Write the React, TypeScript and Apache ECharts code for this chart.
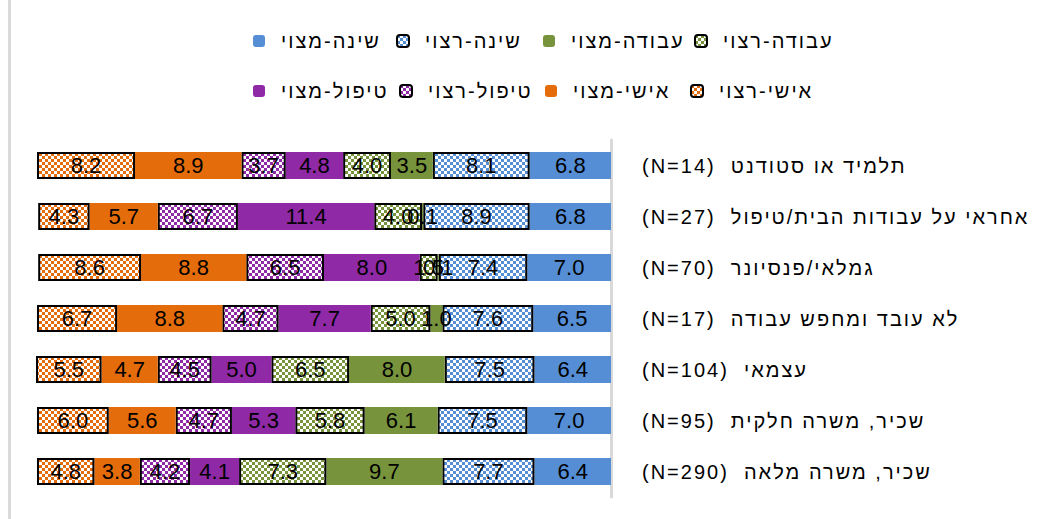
import React, { useEffect, useRef } from 'react';
import * as echarts from 'echarts';

const RLE = '\u202B';
const PDF = '\u202C';

const categories = [
  'תלמיד או סטודנט  (N=14)',
  'אחראי על עבודות הבית/טיפול  (N=27)',
  'גמלאי/פנסיונר  (N=70)',
  'לא עובד ומחפש עבודה  (N=17)',
  'עצמאי  (N=104)',
  'שכיר, משרה חלקית  (N=95)',
  'שכיר, משרה מלאה  (N=290)',
];

const seriesNames = [
  'שינה-מצוי',
  'שינה-רצוי',
  'עבודה-מצוי',
  'עבודה-רצוי',
  'טיפול-מצוי',
  'טיפול-רצוי',
  'אישי-מצוי',
  'אישי-רצוי',
];

const sleepActual = [6.8, 6.8, 7.0, 6.5, 6.4, 7.0, 6.4];
const sleepDesired = [8.1, 8.9, 7.4, 7.6, 7.5, 7.5, 7.7];
const workActual = [3.5, 0.1, 0.1, 1.0, 8.0, 6.1, 9.7];
const workDesired = [4.0, 4.0, 1.5, 5.0, 6.5, 5.8, 7.3];
const careActual = [4.8, 11.4, 8.0, 7.7, 5.0, 5.3, 4.1];
const careDesired = [3.7, 6.7, 6.5, 4.7, 4.5, 4.7, 4.2];
const personalActual = [8.9, 5.7, 8.8, 8.8, 4.7, 5.6, 3.8];
const personalDesired = [8.2, 4.3, 8.6, 6.7, 5.5, 6.0, 4.8];

const seriesValues = [
  sleepActual,
  sleepDesired,
  workActual,
  workDesired,
  careActual,
  careDesired,
  personalActual,
  personalDesired,
];

const colors = ['#558ED5', '#558ED5', '#77933C', '#77933C', '#8F29A5', '#8F29A5', '#E46C0A', '#E46C0A'];
const patterned = [false, true, false, true, false, true, false, true];

const legendPos = [
  [253, 31],
  [396, 31],
  [543, 31],
  [694, 31],
  [253, 81],
  [399, 81],
  [545, 81],
  [690, 81],
];

function makePattern(color: string) {
  const c = document.createElement('canvas');
  c.width = 6;
  c.height = 6;
  const ctx = c.getContext('2d')!;
  ctx.fillStyle = '#ffffff';
  ctx.fillRect(0, 0, 6, 6);
  ctx.fillStyle = color;
  ctx.fillRect(0, 0, 3, 3);
  ctx.fillRect(3, 3, 3, 3);
  return { image: c, repeat: 'repeat', imageWidth: 6, imageHeight: 6 } as any;
}

const css = `.hchart text[style*="Arimo"] { letter-spacing: 2px; }`;

export default function App() {
  const ref = useRef<HTMLDivElement>(null);
  useEffect(() => {
    if (!ref.current) return;
    const chart = echarts.init(ref.current, undefined, { renderer: 'svg' });
    const font = 'Liberation Sans';
    const hebFont = '"Liberation Sans", Arimo';
    const series = seriesNames.map((name, i) => ({
      name,
      type: 'bar',
      stack: 'total',
      barWidth: 27,
      data: seriesValues[i],
      itemStyle: patterned[i]
        ? { color: makePattern(colors[i]), borderColor: '#000000', borderWidth: 2 }
        : { color: colors[i] },
      label: {
        show: true,
        position: 'inside',
        color: '#000000',
        fontSize: 22,
        fontFamily: font,
        textBorderWidth: 0,
        formatter: (p: any) => Number(p.value).toFixed(1),
      },
    }));
    const legends = seriesNames.map((name, i) => ({
      data: [name],
      left: legendPos[i][0],
      top: legendPos[i][1],
      padding: 0,
      itemWidth: 12,
      itemHeight: 12,
      selectedMode: false,
      textStyle: { fontSize: 20, color: '#000000', fontFamily: hebFont, padding: [0, 0, 0, 11] },
    }));
    chart.setOption({
      animation: false,
      backgroundColor: '#ffffff',
      legend: legends,
      grid: { left: 37, right: 440, top: 140, bottom: 22, containLabel: false },
      xAxis: {
        type: 'value',
        inverse: true,
        min: 0,
        max: 48,
        show: false,
      },
      yAxis: {
        type: 'category',
        position: 'right',
        inverse: true,
        data: categories.map((c) => RLE + c + PDF),
        axisLine: { show: true, lineStyle: { color: '#d9d9d9', width: 3 } },
        axisTick: { show: false },
        axisLabel: {
          margin: 31,
          align: 'left',
          fontSize: 20,
          color: '#000000',
          fontFamily: hebFont,
        },
      },
      graphic: [
        { type: 'rect', shape: { x: 8, y: 0, width: 3, height: 519 }, style: { fill: '#d9d9d9' } },
      ],
      series,
    });
    return () => chart.dispose();
  }, []);
  return (
    <>
      <style>{css}</style>
      <div
        ref={ref}
        className="hchart"
        style={{ position: 'absolute', left: 0, top: 0, width: 1051, height: 519 }}
      />
    </>
  );
}
